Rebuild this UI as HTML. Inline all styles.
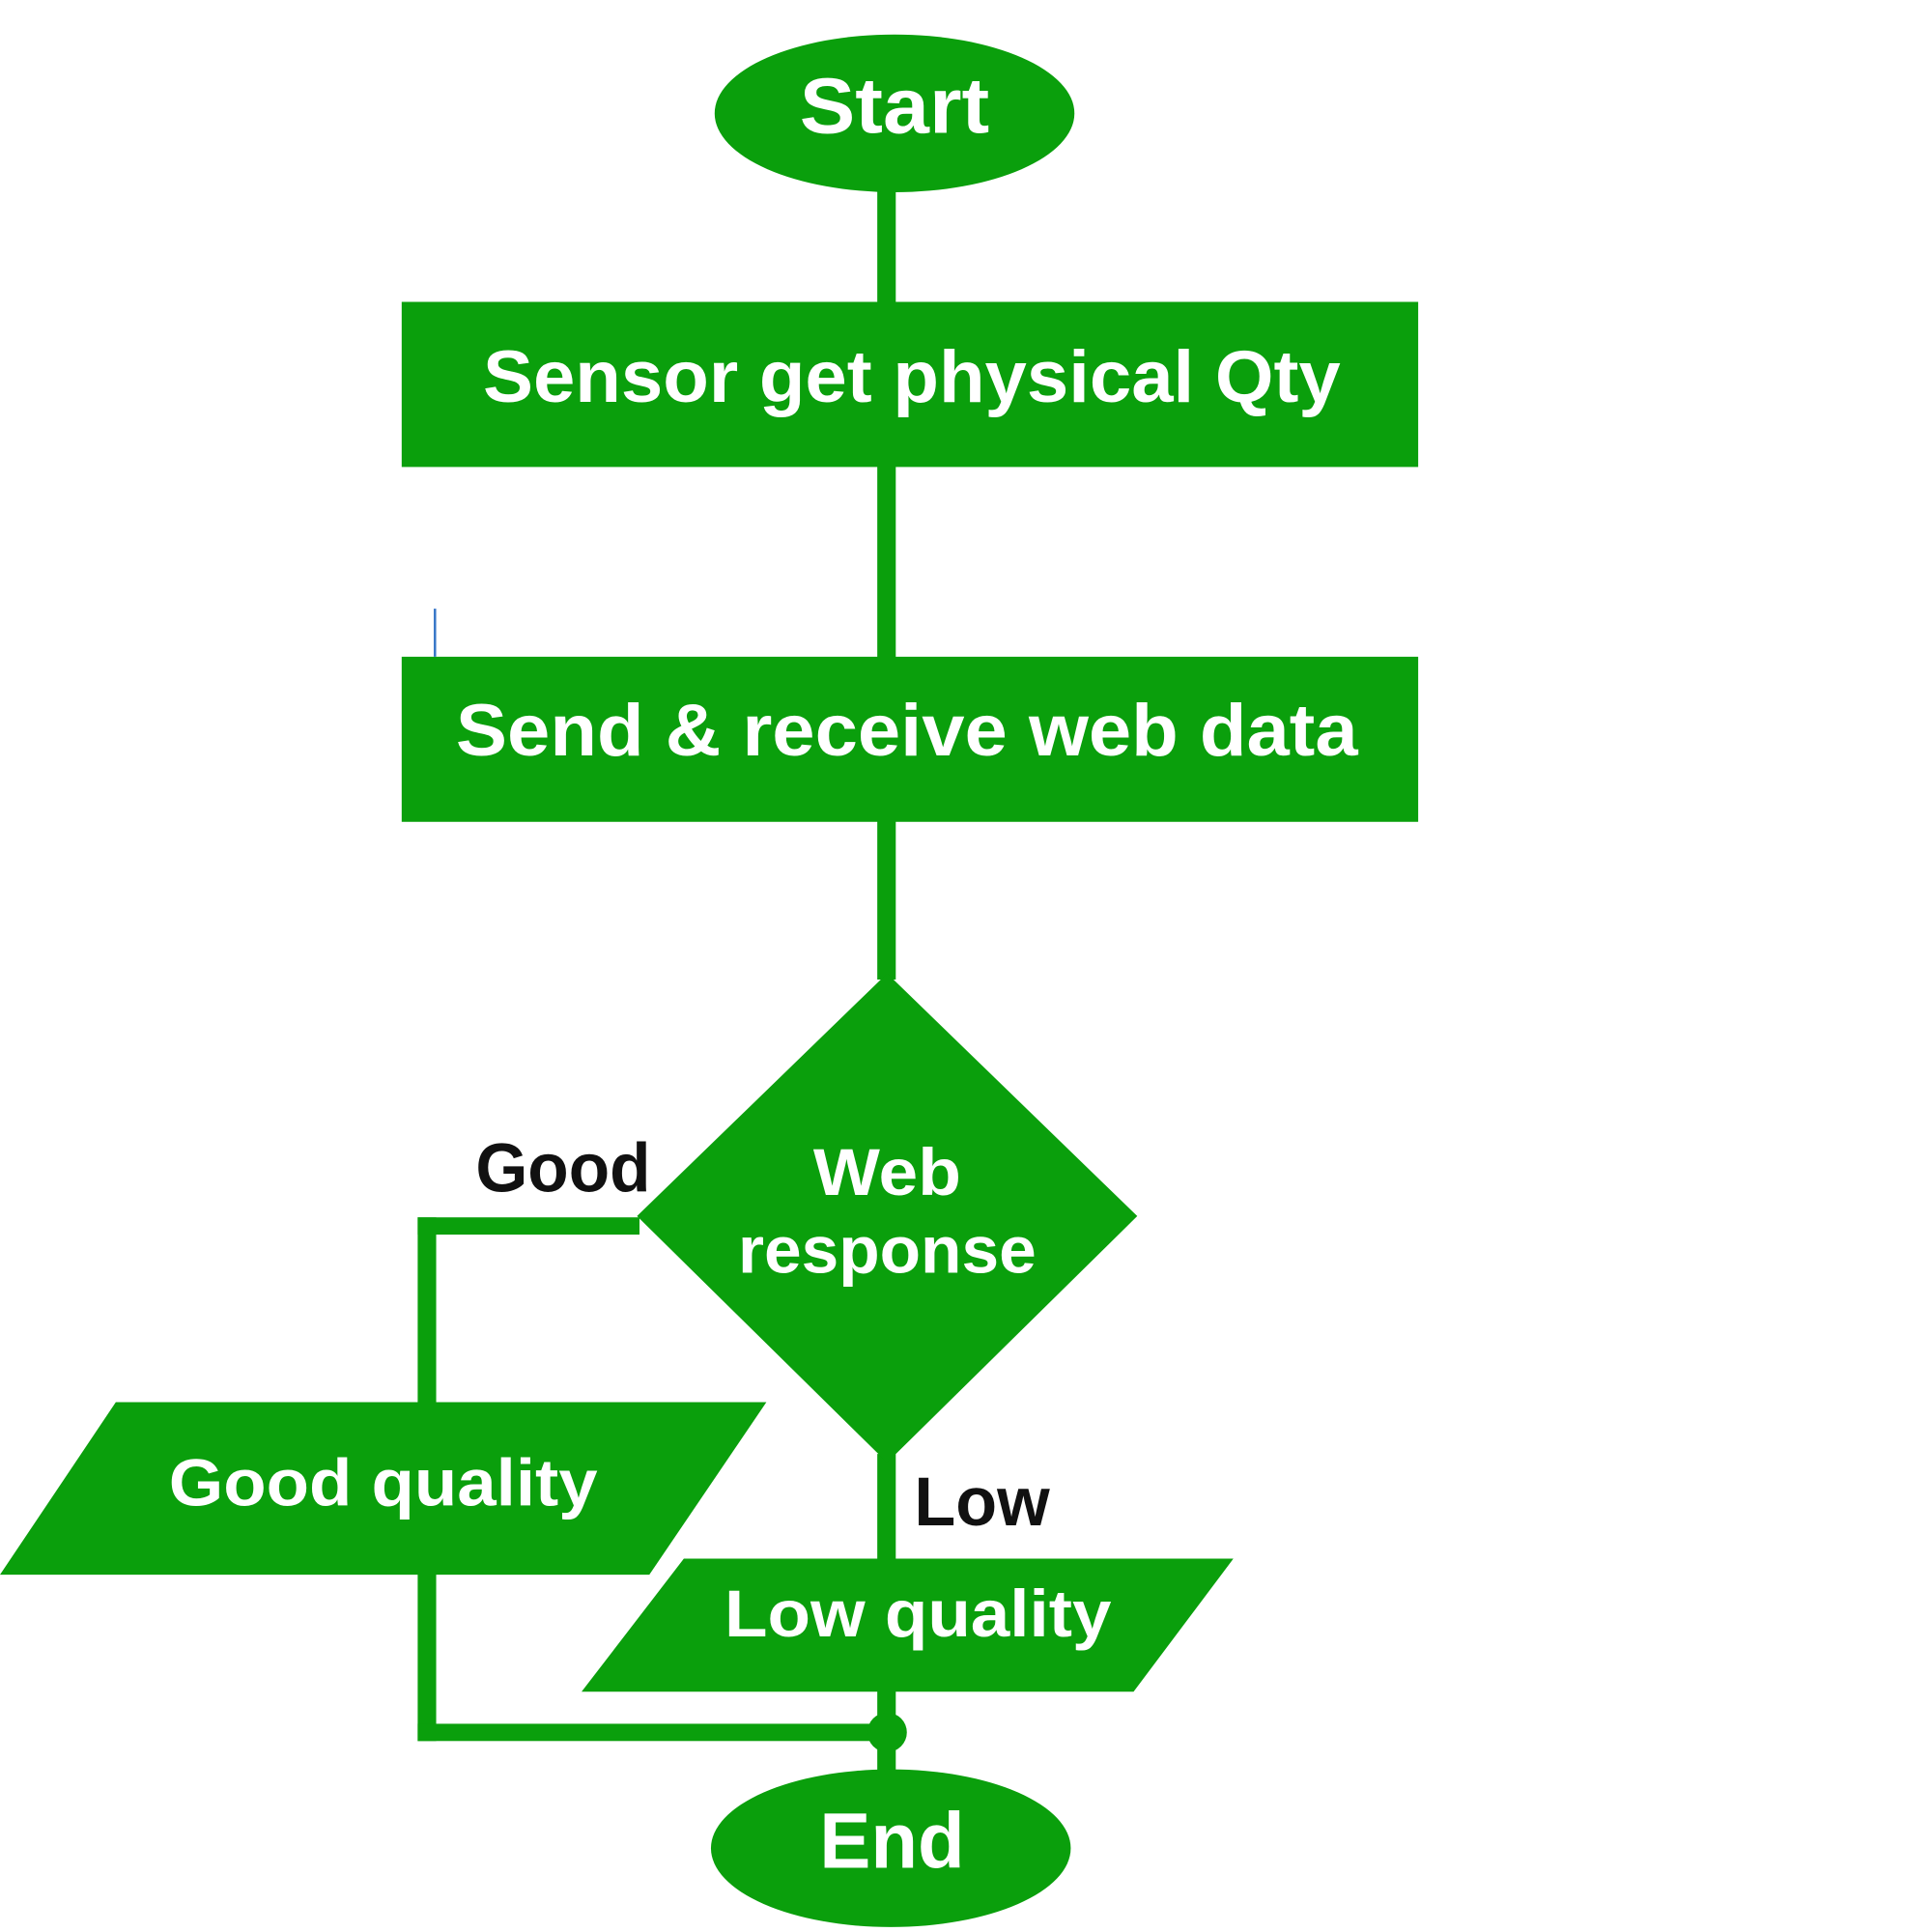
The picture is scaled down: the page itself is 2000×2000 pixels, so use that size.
<!DOCTYPE html>
<html><head><meta charset="utf-8"><style>html,body{margin:0;padding:0;background:#fff}svg{display:block}</style></head>
<body>
<svg width="2000" height="2000" viewBox="0 0 1568 1568" xmlns="http://www.w3.org/2000/svg" font-family="'Liberation Sans', sans-serif" font-weight="bold">
<g fill="#0a9f0c">
<rect x="712" y="150" width="15" height="645"/>
<rect x="712" y="1180" width="15" height="260"/>
<ellipse cx="726" cy="92" rx="146" ry="64"/>
<rect x="326" y="245" width="825" height="134"/>
<rect x="326" y="533" width="825" height="134"/>
<polygon points="720,790 923,987 720,1187 517,987"/>
<rect x="339" y="988" width="180" height="14"/>
<rect x="339" y="988" width="15" height="425"/>
<rect x="339" y="1399" width="385" height="14"/>
<polygon points="94,1138 622,1138 527,1278 0,1278"/>
<polygon points="555,1265 1001,1265 920,1373 472,1373"/>
<circle cx="720" cy="1406" r="16"/>
<ellipse cx="723" cy="1500" rx="146" ry="64"/>
</g>
<rect x="352" y="494" width="2" height="39" fill="#3a78c8"/>
<g fill="#fff" text-anchor="middle">
<text x="726" y="108" font-size="64" textLength="154" lengthAdjust="spacingAndGlyphs">Start</text>
<text x="740" y="326" font-size="60" textLength="696" lengthAdjust="spacingAndGlyphs">Sensor get physical Qty</text>
<text x="736" y="613" font-size="60" textLength="732" lengthAdjust="spacingAndGlyphs">Send &amp; receive web data</text>
<text x="720" y="970" font-size="54" textLength="120" lengthAdjust="spacingAndGlyphs">Web</text>
<text x="720" y="1033" font-size="54" textLength="242" lengthAdjust="spacingAndGlyphs">response</text>
<text x="311" y="1222" font-size="54" textLength="348" lengthAdjust="spacingAndGlyphs">Good quality</text>
<text x="745" y="1328" font-size="54" textLength="314" lengthAdjust="spacingAndGlyphs">Low quality</text>
<text x="724" y="1516" font-size="64" textLength="118" lengthAdjust="spacingAndGlyphs">End</text>
</g>
<g fill="#111">
<text x="386" y="967" font-size="56" textLength="142" lengthAdjust="spacingAndGlyphs">Good</text>
<text x="742" y="1238" font-size="56" textLength="110" lengthAdjust="spacingAndGlyphs">Low</text>
</g>
</svg>
</body></html>
